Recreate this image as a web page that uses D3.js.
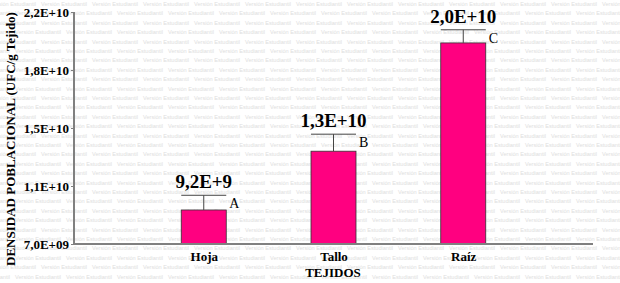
<!DOCTYPE html>
<html><head><meta charset="utf-8">
<script src="https://cdn.jsdelivr.net/npm/d3@7"></script>
<style>body{margin:0;background:#fff}svg{display:block}
.serif{font-family:"Liberation Serif","Times New Roman",Times,serif}</style>
</head><body>
<script>
const categories = ["Hoja", "Tallo", "Raíz"];
const values = [9.2e9, 1.3e10, 2.0e10];
const errors = [0.95e9, 1.1e9, 0.85e9];
const valueLabels = ["9,2E+9", "1,3E+10", "2,0E+10"];
const groupLetters = ["A", "B", "C"];
const yTickValues = [7.0e9, 1.075e10, 1.45e10, 1.825e10, 2.2e10];
const yTickLabels = ["7,0E+09", "1,1E+10", "1,5E+10", "1,8E+10", "2,2E+10"];

const W = 620, H = 283;
const svg = d3.select("body").append("svg").attr("width", W).attr("height", H);

// watermark
const wm = svg.append("g").attr("fill", "#dedede").style("font-family", "Arial, 'Liberation Sans', sans-serif").attr("font-size", 5.6);
for (let r = 0, y = 6; y < H + 6; r++, y += 9.4) {
  const off = (r % 2) ? -26 : 0;
  for (let x = off - 10; x < W; x += 51) {
    wm.append("text").attr("x", x).attr("y", y).text("Versión Estudiantil");
  }
}

const x = d3.scalePoint().domain(categories).range([74, 593]).padding(1);
const y = d3.scaleLinear().domain([7e9, 2.2e10]).range([244, 12]);
const bw = 45;

// bars
svg.append("g").selectAll("rect").data(values).join("rect")
  .attr("x", (d, i) => x(categories[i]) - bw / 2)
  .attr("y", d => y(d))
  .attr("width", bw).attr("height", d => y(7e9) - y(d))
  .attr("fill", "#FF0080").attr("stroke", "#333").attr("stroke-width", 0.8);

// error bars
const eb = svg.append("g").attr("stroke", "#444").attr("stroke-width", 1);
values.forEach((v, i) => {
  const cx = x(categories[i]);
  eb.append("line").attr("x1", cx).attr("x2", cx).attr("y1", y(v)).attr("y2", y(v + errors[i]));
  eb.append("line").attr("x1", cx - bw / 2).attr("x2", cx + bw / 2).attr("y1", y(v + errors[i])).attr("y2", y(v + errors[i]));
  svg.append("text").attr("class", "serif").attr("x", cx + bw / 2 + 3).attr("y", y(v + errors[i]) + 13)
    .attr("font-size", 14).attr("fill", "#000").text(groupLetters[i]);
  svg.append("text").attr("class", "serif").attr("x", cx).attr("y", y(v + errors[i]) - 7).attr("text-anchor", "middle")
    .attr("font-weight", "bold").attr("font-size", 19).attr("fill", "#000").text(valueLabels[i]);
});

// y axis
const yAxis = svg.append("g").attr("transform", "translate(74,0)")
  .call(d3.axisLeft(y).tickValues(yTickValues).tickSize(3).tickPadding(2)
    .tickFormat((d, i) => yTickLabels[i]));
yAxis.attr("font-family", null);
yAxis.select(".domain").attr("stroke", "#808080").attr("stroke-width", 2).attr("d", "M0,12V244");
yAxis.selectAll(".tick line").attr("stroke", "#808080");
yAxis.selectAll("text").attr("class", "serif").attr("font-weight", "bold").attr("font-size", 13).attr("fill", "#000");

// x axis
const xAxis = svg.append("g").attr("transform", "translate(0,244)")
  .call(d3.axisBottom(x).tickSize(0).tickPadding(8));
xAxis.attr("font-family", null);
xAxis.select(".domain").attr("stroke", "#808080").attr("stroke-width", 2).attr("d", "M74,0H593");
xAxis.selectAll("text").attr("class", "serif").attr("font-weight", "bold").attr("font-size", 13).attr("fill", "#000");

// titles
svg.append("text").attr("class", "serif").attr("x", 333).attr("y", 277).attr("text-anchor", "middle")
  .attr("font-weight", "bold").attr("font-size", 13).text("TEJIDOS");
svg.append("text").attr("class", "serif").attr("transform", "translate(15,139) rotate(-90)").attr("text-anchor", "middle")
  .attr("font-weight", "bold").attr("font-size", 13).text("DENSIDAD POBLACIONAL (UFC/g Tejido)");
</script>
</body></html>
